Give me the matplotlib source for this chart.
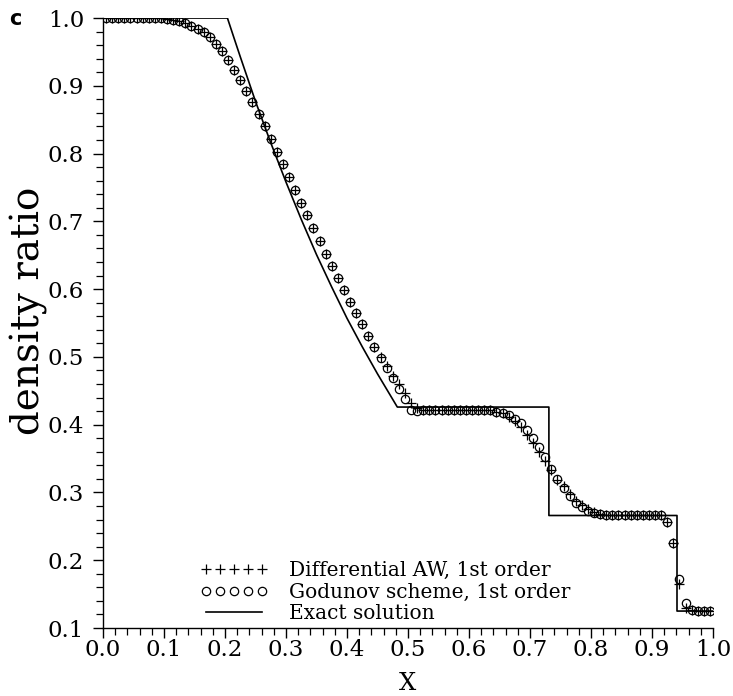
import numpy as np
import matplotlib
matplotlib.use("Agg")
import matplotlib.pyplot as plt
from matplotlib.ticker import MultipleLocator

# cell centres of the 100-cell grid
x_cells = np.linspace(0.005, 0.995, 100)

# Godunov scheme, 1st order
rho_godunov = [
    1.000, 1.000, 1.000, 1.000, 1.000, 1.000, 1.000, 1.000, 1.000, 1.000,
    0.999, 0.997, 0.995, 0.992, 0.988, 0.984, 0.979, 0.972, 0.962, 0.951,
    0.938, 0.923, 0.908, 0.892, 0.876, 0.858, 0.840, 0.821, 0.802, 0.784,
    0.765, 0.746, 0.727, 0.709, 0.690, 0.671, 0.652, 0.634, 0.616, 0.599,
    0.581, 0.565, 0.548, 0.531, 0.515, 0.499, 0.484, 0.469, 0.453, 0.438,
    0.421, 0.420, 0.422, 0.422, 0.422, 0.422, 0.422, 0.422, 0.422, 0.422,
    0.422, 0.422, 0.422, 0.421, 0.419, 0.417, 0.414, 0.409, 0.402, 0.392,
    0.381, 0.367, 0.352, 0.335, 0.320, 0.307, 0.295, 0.285, 0.278, 0.273,
    0.270, 0.268, 0.267, 0.266, 0.266, 0.266, 0.266, 0.266, 0.266, 0.266,
    0.266, 0.266, 0.256, 0.226, 0.173, 0.137, 0.127, 0.125, 0.125, 0.125,
]

# Differential AW, 1st order
rho_aw = [
    1.000, 1.000, 1.000, 1.000, 1.000, 1.000, 1.000, 1.000, 1.000, 1.000,
    0.999, 0.997, 0.995, 0.992, 0.988, 0.984, 0.979, 0.972, 0.962, 0.951,
    0.938, 0.923, 0.908, 0.892, 0.876, 0.858, 0.840, 0.821, 0.802, 0.784,
    0.765, 0.746, 0.727, 0.709, 0.690, 0.671, 0.652, 0.634, 0.616, 0.599,
    0.581, 0.565, 0.548, 0.531, 0.515, 0.500, 0.486, 0.472, 0.460, 0.447,
    0.432, 0.424, 0.422, 0.422, 0.422, 0.422, 0.422, 0.422, 0.422, 0.422,
    0.422, 0.422, 0.422, 0.421, 0.419, 0.417, 0.411, 0.405, 0.396, 0.385,
    0.373, 0.360, 0.346, 0.333, 0.319, 0.309, 0.298, 0.288, 0.281, 0.275,
    0.271, 0.268, 0.267, 0.266, 0.266, 0.266, 0.266, 0.266, 0.266, 0.266,
    0.266, 0.266, 0.256, 0.226, 0.165, 0.130, 0.127, 0.125, 0.125, 0.125,
]

# exact solution
exact_x = [0.0, 0.204, 0.215, 0.225, 0.25, 0.275, 0.30, 0.325, 0.35, 0.375,
           0.40, 0.425, 0.45, 0.4825, 0.731, 0.731, 0.941, 0.941, 1.0]
exact_y = [1.0, 1.0, 0.970, 0.943, 0.877, 0.816, 0.758, 0.703, 0.651, 0.603,
           0.557, 0.515, 0.475, 0.426, 0.426, 0.266, 0.266, 0.125, 0.125]

plt.rcParams['font.family'] = 'DejaVu Serif'

fig = plt.figure(figsize=(7.33, 6.96), dpi=100)
ax = fig.add_axes([0.1405, 0.0977, 0.8322, 0.8764])

ax.plot(x_cells, rho_aw, linestyle='none', marker='+', ms=7, mew=0.9,
        color='black', label='Differential AW, 1st order')
ax.plot(x_cells, rho_godunov, linestyle='none', marker='o', ms=6, mew=0.9,
        mfc='none', color='black', label='Godunov scheme, 1st order')
ax.plot(exact_x, exact_y, color='black', lw=1.2, label='Exact solution')

ax.set_xlim(0.0, 1.0)
ax.set_ylim(0.1, 1.0)
ax.xaxis.set_major_locator(MultipleLocator(0.1))
ax.xaxis.set_minor_locator(MultipleLocator(0.02))
ax.yaxis.set_major_locator(MultipleLocator(0.1))
ax.yaxis.set_minor_locator(MultipleLocator(0.02))
ax.xaxis.set_major_formatter(plt.FormatStrFormatter('%.1f'))
ax.yaxis.set_major_formatter(plt.FormatStrFormatter('%.1f'))

for s in ['top', 'right']:
    ax.spines[s].set_visible(False)
for s in ['left', 'bottom']:
    ax.spines[s].set_linewidth(1.0)

ax.tick_params(which='major', direction='out', length=7.5, width=1.0, labelsize=16.5)
ax.tick_params(axis='y', which='major', pad=6)
ax.tick_params(axis='x', which='major', pad=0.5)
ax.tick_params(which='minor', direction='out', length=5, width=0.9)

ax.set_xlabel('X', fontsize=17.5, va='baseline')
ax.xaxis.set_label_coords(0.5, -0.1016)
ax.set_ylabel('density ratio', fontsize=28, va='center')
ax.yaxis.set_label_coords(-0.121, 0.52)

ax.legend(loc='lower left', bbox_to_anchor=(0.159, 0.008), frameon=False,
          fontsize=14.5, numpoints=5, handlelength=3.4, handletextpad=1.0,
          labelspacing=0.12, borderpad=0, borderaxespad=0)

fig.text(0.012, 0.972, 'c', fontsize=15, fontweight='bold', family='DejaVu Sans',
         va='center')

fig.savefig('out.png', dpi=100)
